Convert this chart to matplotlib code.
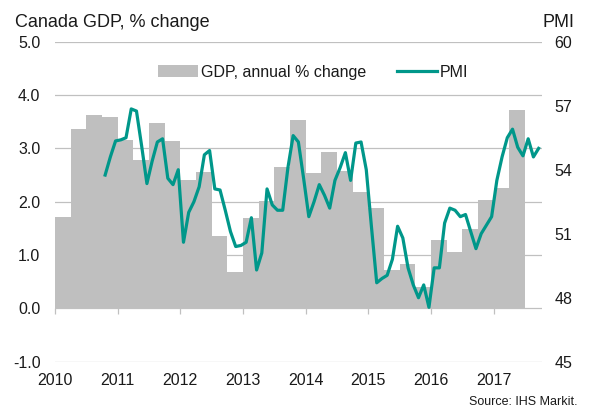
import matplotlib
matplotlib.use("Agg")
import matplotlib.pyplot as plt
import numpy as np
import pandas as pd

plt.rcParams["font.family"] = ["Liberation Sans", "DejaVu Sans"]
plt.rcParams["font.size"] = 11.5

TEXT = "#1a1a1a"
GRID = "#c0c0c0"
BAR = "#bfbfbf"
TEAL = "#00978a"

# GDP, annual % change, quarterly (2010Q1 .. 2017Q2)
gdp_quarters = pd.period_range("2010Q1", "2017Q2", freq="Q")
gdp_values = [
    1.72, 3.37, 3.63, 3.58,
    3.16, 2.79, 3.48, 3.13,
    2.41, 2.56, 1.36, 0.69,
    1.69, 2.02, 2.65, 3.54,
    2.53, 2.93, 2.58, 2.18,
    1.88, 0.72, 0.83, 0.40,
    1.28, 1.05, 1.49, 2.03,
    2.26, 3.72,
]

# Manufacturing PMI, monthly (Oct 2010 .. Sep 2017)
pmi_months = pd.period_range("2010-10", "2017-09", freq="M")
pmi_values = [
    53.75, 54.6, 55.35,
    55.4, 55.5, 56.85, 56.75, 55.1, 53.35, 54.4, 55.3, 55.45, 53.6, 53.3, 54.0,
    50.6, 52.0, 52.5, 53.2, 54.7, 54.9, 53.1, 53.05, 52.1, 51.1, 50.4, 50.45,
    50.6, 51.75, 49.3, 50.1, 53.1, 52.35, 52.1, 52.1, 54.1, 55.6, 55.3, 53.6,
    51.8, 52.5, 53.3, 52.8, 52.2, 53.5, 54.1, 54.8, 53.5, 55.25, 55.3, 54.0,
    51.3, 48.7, 48.9, 49.05, 49.8, 51.35, 50.8, 49.4, 48.6, 48.0, 48.6, 47.55,
    49.4, 49.4, 51.5, 52.2, 52.1, 51.8, 51.9, 51.1, 50.3, 51.0, 51.4, 51.8,
    53.5, 54.6, 55.5, 55.9, 55.05, 54.65, 55.45, 54.6, 55.0,
]

years = list(range(2010, 2018))
left_ticks = [-1, 0, 1, 2, 3, 4, 5]
right_ticks = [45, 48, 51, 54, 57, 60]


def decimal_year(periods, offset):
    return np.array([p.year + (p.month - 1 + offset) / 12 for p in periods])


gdp_x = decimal_year(gdp_quarters.asfreq("M", how="start"), 0.0)
pmi_x = decimal_year(pmi_months, 0.6)

fig = plt.figure(figsize=(5.9, 4.09), dpi=100)
ax = fig.add_axes([0.0932, 0.1156, 0.8254, 0.7824])
ax2 = ax.twinx()

ax.bar(gdp_x, gdp_values, width=0.25, align="edge", color=BAR,
       linewidth=0, label="GDP, annual % change", zorder=2)
ax2.plot(pmi_x, pmi_values, color=TEAL, linewidth=2.3, label="PMI",
         solid_joinstyle="round", zorder=3)

ax.set_xlim(2010, 2017.77)
ax.set_ylim(-1, 5)
ax2.set_ylim(45, 60)

ax.set_yticks(left_ticks)
ax.set_yticklabels([f"{v:.1f}" for v in left_ticks])
ax2.set_yticks(right_ticks)
ax2.set_yticklabels([str(v) for v in right_ticks])
ax.set_xticks(years)
ax.set_xticklabels([str(y) for y in years])

ax.tick_params(axis="y", length=0, pad=10.5, colors=TEXT, labelsize=11.5)
ax2.tick_params(axis="y", length=0, pad=9, colors=TEXT, labelsize=11.5)
ax.tick_params(axis="x", length=0, pad=8, colors=TEXT, labelsize=11.5)

for a in (ax, ax2):
    for s in a.spines.values():
        s.set_visible(False)

ax.grid(axis="y", color=GRID, linewidth=0.9, zorder=0)
ax.set_axisbelow(True)

# year tick marks on the zero line
zero_axis = ax.secondary_xaxis(1 / 6)
zero_axis.set_xticks(years)
zero_axis.tick_params(axis="x", direction="out", length=4, width=0.9,
                      color=GRID, labelbottom=False, labeltop=False)
zero_axis.spines["bottom"].set_visible(False)
zero_axis.spines["top"].set_visible(False)

h1, l1 = ax.get_legend_handles_labels()
h2, l2 = ax2.get_legend_handles_labels()
leg = ax2.legend(h1 + h2, l1 + l2, loc="center", bbox_to_anchor=(0.53, 0.905),
                 ncol=2, frameon=False, fontsize=11.5, handlelength=2.5,
                 handletextpad=0.2, columnspacing=1.9)
for t in leg.get_texts():
    t.set_color(TEXT)

fig.text(0.025, 0.944, "Canada GDP, % change", fontsize=13, color=TEXT,
         va="center", ha="left")
fig.text(0.973, 0.944, "PMI", fontsize=13, color=TEXT, va="center",
         ha="right")
fig.text(0.978, 0.018, "Source: IHS Markit.", fontsize=9, color=TEXT,
         va="center", ha="right")

fig.savefig("out.png", dpi=100)
